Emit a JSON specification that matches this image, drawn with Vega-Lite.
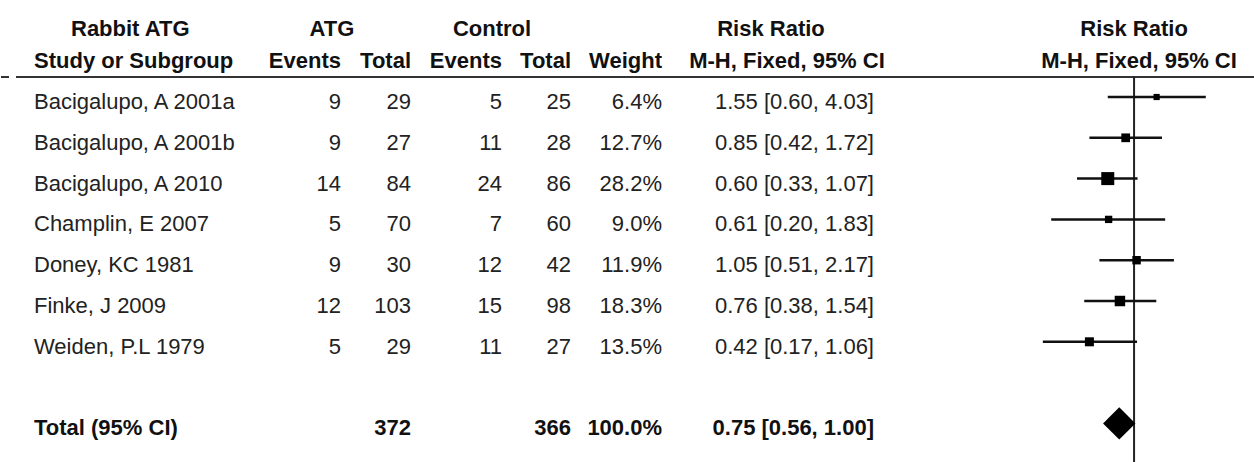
{
  "$schema": "https://vega.github.io/schema/vega-lite/v6.json",
  "padding": 0,
  "spacing": 0,
  "bounds": "flush",
  "background": "white",
  "config": {
    "view": {"stroke": null},
    "text": {"font": "Liberation Sans, Arial, sans-serif", "fontSize": 22, "baseline": "alphabetic", "dy": 12, "color": "#222"}
  },
  "data": {
    "values": [
      {"row": 0, "study": "Bacigalupo, A 2001a", "atg_ev": "9", "atg_tot": "29", "ctl_ev": "5", "ctl_tot": "25", "weight": "6.4%", "ci": "1.55 [0.60, 4.03]", "rr": 1.55, "lo": 0.60, "hi": 4.03, "w": 0.064},
      {"row": 1, "study": "Bacigalupo, A 2001b", "atg_ev": "9", "atg_tot": "27", "ctl_ev": "11", "ctl_tot": "28", "weight": "12.7%", "ci": "0.85 [0.42, 1.72]", "rr": 0.85, "lo": 0.42, "hi": 1.72, "w": 0.127},
      {"row": 2, "study": "Bacigalupo, A 2010", "atg_ev": "14", "atg_tot": "84", "ctl_ev": "24", "ctl_tot": "86", "weight": "28.2%", "ci": "0.60 [0.33, 1.07]", "rr": 0.60, "lo": 0.33, "hi": 1.07, "w": 0.282},
      {"row": 3, "study": "Champlin, E 2007", "atg_ev": "5", "atg_tot": "70", "ctl_ev": "7", "ctl_tot": "60", "weight": "9.0%", "ci": "0.61 [0.20, 1.83]", "rr": 0.61, "lo": 0.20, "hi": 1.83, "w": 0.090},
      {"row": 4, "study": "Doney, KC 1981", "atg_ev": "9", "atg_tot": "30", "ctl_ev": "12", "ctl_tot": "42", "weight": "11.9%", "ci": "1.05 [0.51, 2.17]", "rr": 1.05, "lo": 0.51, "hi": 2.17, "w": 0.119},
      {"row": 5, "study": "Finke, J 2009", "atg_ev": "12", "atg_tot": "103", "ctl_ev": "15", "ctl_tot": "98", "weight": "18.3%", "ci": "0.76 [0.38, 1.54]", "rr": 0.76, "lo": 0.38, "hi": 1.54, "w": 0.183},
      {"row": 6, "study": "Weiden, P.L 1979", "atg_ev": "5", "atg_tot": "29", "ctl_ev": "11", "ctl_tot": "27", "weight": "13.5%", "ci": "0.42 [0.17, 1.06]", "rr": 0.42, "lo": 0.17, "hi": 1.06, "w": 0.135},
      {"row": 8, "study": "Total (95% CI)", "atg_ev": "", "atg_tot": "372", "ctl_ev": "", "ctl_tot": "366", "weight": "100.0%", "ci": "0.75 [0.56, 1.00]", "rr": 0.75, "lo": 0.56, "hi": 1.00, "w": 1.0}
    ]
  },
  "hconcat": [
    {
      "width": 8, "height": 462,
      "layer": [
        {"data": {"values": [{}]}, "mark": {"type": "rule", "color": "#333", "strokeWidth": 2}, "encoding": {"y": {"datum": -0.49, "type": "quantitative", "scale": {"domain": [-2.3775, 8.946], "reverse": true, "nice": false, "zero": false}, "axis": null}}}
      ]
    },
    {
      "width": 7, "height": 462,
      "layer": [
        {"data": {"values": [{}]}, "mark": {"type": "rule", "color": "#333", "strokeWidth": 2, "opacity": 0}, "encoding": {"y": {"datum": -0.49, "type": "quantitative", "scale": {"domain": [-2.3775, 8.946], "reverse": true, "nice": false, "zero": false}, "axis": null}}}
      ]
    },
    {
      "width": 18, "height": 462,
      "layer": [
        {"data": {"values": [{}]}, "mark": {"type": "rule", "color": "#333", "strokeWidth": 2}, "encoding": {"y": {"datum": -0.49, "type": "quantitative", "scale": {"domain": [-2.3775, 8.946], "reverse": true, "nice": false, "zero": false}, "axis": null}}}
      ]
    },
    {
      "width": 229, "height": 462,
      "layer": [
        {"data": {"values": [{}]}, "mark": {"type": "rule", "color": "#333", "strokeWidth": 2}, "encoding": {"y": {"datum": -0.49, "type": "quantitative", "scale": {"domain": [-2.3775, 8.946], "reverse": true, "nice": false, "zero": false}, "axis": null}}},
        {"transform": [{"filter": "datum.row < 8"}], "mark": {"type": "text", "align": "left"}, "encoding": {"x": {"value": 0}, "y": {"field": "row", "type": "quantitative", "axis": null}, "text": {"field": "study", "type": "nominal"}}},
        {"transform": [{"filter": "datum.row == 8"}], "mark": {"type": "text", "align": "left", "fontWeight": "bold", "color": "#111"}, "encoding": {"x": {"value": 0}, "y": {"field": "row", "type": "quantitative", "axis": null}, "text": {"field": "study", "type": "nominal"}}},
        {"data": {"values": [{"row": -1, "label": "Study or Subgroup"}]}, "mark": {"type": "text", "align": "left", "fontWeight": "bold", "color": "#111"}, "encoding": {"x": {"value": 0}, "y": {"field": "row", "type": "quantitative", "axis": null}, "text": {"field": "label", "type": "nominal"}}},
        {"data": {"values": [{"row": -1.8, "label": "Rabbit ATG"}]}, "mark": {"type": "text", "align": "left", "dx": 37, "fontWeight": "bold", "color": "#111"}, "encoding": {"x": {"value": 0}, "y": {"field": "row", "type": "quantitative", "axis": null}, "text": {"field": "label", "type": "nominal"}}}
      ]
    },
    {
      "width": 78, "height": 462,
      "layer": [
        {"data": {"values": [{}]}, "mark": {"type": "rule", "color": "#333", "strokeWidth": 2}, "encoding": {"y": {"datum": -0.49, "type": "quantitative", "scale": {"domain": [-2.3775, 8.946], "reverse": true, "nice": false, "zero": false}, "axis": null}}},
        {"transform": [{"filter": "datum.row < 8"}], "mark": {"type": "text", "align": "right"}, "encoding": {"x": {"value": "width"}, "y": {"field": "row", "type": "quantitative", "axis": null}, "text": {"field": "atg_ev", "type": "nominal"}}},
        {"data": {"values": [{"row": -1, "label": "Events"}]}, "mark": {"type": "text", "align": "right", "fontWeight": "bold", "color": "#111"}, "encoding": {"x": {"value": "width"}, "y": {"field": "row", "type": "quantitative", "axis": null}, "text": {"field": "label", "type": "nominal"}}},
        {"data": {"values": [{"row": -1.8, "label": "ATG"}]}, "mark": {"type": "text", "align": "center", "dx": -9, "fontWeight": "bold", "color": "#111"}, "encoding": {"x": {"value": "width"}, "y": {"field": "row", "type": "quantitative", "axis": null}, "text": {"field": "label", "type": "nominal"}}}
      ]
    },
    {
      "width": 70, "height": 462,
      "layer": [
        {"data": {"values": [{}]}, "mark": {"type": "rule", "color": "#333", "strokeWidth": 2}, "encoding": {"y": {"datum": -0.49, "type": "quantitative", "scale": {"domain": [-2.3775, 8.946], "reverse": true, "nice": false, "zero": false}, "axis": null}}},
        {"transform": [{"filter": "datum.row < 8"}], "mark": {"type": "text", "align": "right"}, "encoding": {"x": {"value": "width"}, "y": {"field": "row", "type": "quantitative", "axis": null}, "text": {"field": "atg_tot", "type": "nominal"}}},
        {"transform": [{"filter": "datum.row == 8"}], "mark": {"type": "text", "align": "right", "fontWeight": "bold", "color": "#111"}, "encoding": {"x": {"value": "width"}, "y": {"field": "row", "type": "quantitative", "axis": null}, "text": {"field": "atg_tot", "type": "nominal"}}},
        {"data": {"values": [{"row": -1, "label": "Total"}]}, "mark": {"type": "text", "align": "right", "fontWeight": "bold", "color": "#111"}, "encoding": {"x": {"value": "width"}, "y": {"field": "row", "type": "quantitative", "axis": null}, "text": {"field": "label", "type": "nominal"}}}
      ]
    },
    {
      "width": 91, "height": 462,
      "layer": [
        {"data": {"values": [{}]}, "mark": {"type": "rule", "color": "#333", "strokeWidth": 2}, "encoding": {"y": {"datum": -0.49, "type": "quantitative", "scale": {"domain": [-2.3775, 8.946], "reverse": true, "nice": false, "zero": false}, "axis": null}}},
        {"transform": [{"filter": "datum.row < 8"}], "mark": {"type": "text", "align": "right"}, "encoding": {"x": {"value": "width"}, "y": {"field": "row", "type": "quantitative", "axis": null}, "text": {"field": "ctl_ev", "type": "nominal"}}},
        {"data": {"values": [{"row": -1, "label": "Events"}]}, "mark": {"type": "text", "align": "right", "fontWeight": "bold", "color": "#111"}, "encoding": {"x": {"value": "width"}, "y": {"field": "row", "type": "quantitative", "axis": null}, "text": {"field": "label", "type": "nominal"}}},
        {"data": {"values": [{"row": -1.8, "label": "Control"}]}, "mark": {"type": "text", "align": "center", "dx": -10, "fontWeight": "bold", "color": "#111"}, "encoding": {"x": {"value": "width"}, "y": {"field": "row", "type": "quantitative", "axis": null}, "text": {"field": "label", "type": "nominal"}}}
      ]
    },
    {
      "width": 69, "height": 462,
      "layer": [
        {"data": {"values": [{}]}, "mark": {"type": "rule", "color": "#333", "strokeWidth": 2}, "encoding": {"y": {"datum": -0.49, "type": "quantitative", "scale": {"domain": [-2.3775, 8.946], "reverse": true, "nice": false, "zero": false}, "axis": null}}},
        {"transform": [{"filter": "datum.row < 8"}], "mark": {"type": "text", "align": "right"}, "encoding": {"x": {"value": "width"}, "y": {"field": "row", "type": "quantitative", "axis": null}, "text": {"field": "ctl_tot", "type": "nominal"}}},
        {"transform": [{"filter": "datum.row == 8"}], "mark": {"type": "text", "align": "right", "fontWeight": "bold", "color": "#111"}, "encoding": {"x": {"value": "width"}, "y": {"field": "row", "type": "quantitative", "axis": null}, "text": {"field": "ctl_tot", "type": "nominal"}}},
        {"data": {"values": [{"row": -1, "label": "Total"}]}, "mark": {"type": "text", "align": "right", "fontWeight": "bold", "color": "#111"}, "encoding": {"x": {"value": "width"}, "y": {"field": "row", "type": "quantitative", "axis": null}, "text": {"field": "label", "type": "nominal"}}}
      ]
    },
    {
      "width": 91, "height": 462,
      "layer": [
        {"data": {"values": [{}]}, "mark": {"type": "rule", "color": "#333", "strokeWidth": 2}, "encoding": {"y": {"datum": -0.49, "type": "quantitative", "scale": {"domain": [-2.3775, 8.946], "reverse": true, "nice": false, "zero": false}, "axis": null}}},
        {"transform": [{"filter": "datum.row < 8"}], "mark": {"type": "text", "align": "right"}, "encoding": {"x": {"value": "width"}, "y": {"field": "row", "type": "quantitative", "axis": null}, "text": {"field": "weight", "type": "nominal"}}},
        {"transform": [{"filter": "datum.row == 8"}], "mark": {"type": "text", "align": "right", "fontWeight": "bold", "color": "#111"}, "encoding": {"x": {"value": "width"}, "y": {"field": "row", "type": "quantitative", "axis": null}, "text": {"field": "weight", "type": "nominal"}}},
        {"data": {"values": [{"row": -1, "label": "Weight"}]}, "mark": {"type": "text", "align": "right", "fontWeight": "bold", "color": "#111"}, "encoding": {"x": {"value": "width"}, "y": {"field": "row", "type": "quantitative", "axis": null}, "text": {"field": "label", "type": "nominal"}}}
      ]
    },
    {
      "width": 212, "height": 462,
      "layer": [
        {"data": {"values": [{}]}, "mark": {"type": "rule", "color": "#333", "strokeWidth": 2}, "encoding": {"y": {"datum": -0.49, "type": "quantitative", "scale": {"domain": [-2.3775, 8.946], "reverse": true, "nice": false, "zero": false}, "axis": null}}},
        {"transform": [{"filter": "datum.row < 8"}], "mark": {"type": "text", "align": "right"}, "encoding": {"x": {"value": "width"}, "y": {"field": "row", "type": "quantitative", "axis": null}, "text": {"field": "ci", "type": "nominal"}}},
        {"transform": [{"filter": "datum.row == 8"}], "mark": {"type": "text", "align": "right", "fontWeight": "bold", "color": "#111"}, "encoding": {"x": {"value": "width"}, "y": {"field": "row", "type": "quantitative", "axis": null}, "text": {"field": "ci", "type": "nominal"}}},
        {"data": {"values": [{"row": -1, "label": "M-H, Fixed, 95% CI"}]}, "mark": {"type": "text", "align": "center", "dx": -87, "fontWeight": "bold", "color": "#111"}, "encoding": {"x": {"value": "width"}, "y": {"field": "row", "type": "quantitative", "axis": null}, "text": {"field": "label", "type": "nominal"}}},
        {"data": {"values": [{"row": -1.8, "label": "Risk Ratio"}]}, "mark": {"type": "text", "align": "center", "dx": -103, "fontWeight": "bold", "color": "#111"}, "encoding": {"x": {"value": "width"}, "y": {"field": "row", "type": "quantitative", "axis": null}, "text": {"field": "label", "type": "nominal"}}}
      ]
    },
    {
      "width": 23, "height": 462,
      "layer": [
        {"data": {"values": [{}]}, "mark": {"type": "rule", "color": "#333", "strokeWidth": 2}, "encoding": {"y": {"datum": -0.49, "type": "quantitative", "scale": {"domain": [-2.3775, 8.946], "reverse": true, "nice": false, "zero": false}, "axis": null}}}
      ]
    },
    {
      "width": 358, "height": 462,
      "layer": [
        {"data": {"values": [{}]}, "mark": {"type": "rule", "color": "#333", "strokeWidth": 2}, "encoding": {"y": {"datum": -0.49, "type": "quantitative", "scale": {"domain": [-2.3775, 8.946], "reverse": true, "nice": false, "zero": false}, "axis": null}}},
        {"data": {"values": [{}]}, "mark": {"type": "rule", "color": "#222", "strokeWidth": 2}, "encoding": {"x": {"datum": 1, "type": "quantitative", "scale": {"type": "log", "domain": [0.01, 10.48], "nice": false}, "axis": null}, "y": {"datum": -0.49, "type": "quantitative", "axis": null}, "y2": {"datum": 8.946}}},
        {"transform": [{"filter": "datum.row < 8"}], "mark": {"type": "rule", "color": "#111", "strokeWidth": 2.5}, "encoding": {"x": {"field": "lo", "type": "quantitative", "axis": null}, "x2": {"field": "hi"}, "y": {"field": "row", "type": "quantitative", "axis": null}}},
        {"transform": [{"filter": "datum.row < 8"}], "mark": {"type": "point", "shape": "square", "filled": true, "color": "#000", "opacity": 1}, "encoding": {"x": {"field": "rr", "type": "quantitative", "axis": null}, "y": {"field": "row", "type": "quantitative", "axis": null}, "size": {"field": "w", "type": "quantitative", "scale": {"domain": [0, 0.3], "range": [0, 180]}, "legend": null}}},
        {"transform": [{"filter": "datum.row == 8"}], "mark": {"type": "point", "shape": "diamond", "filled": true, "color": "#000", "opacity": 1, "size": 1050}, "encoding": {"x": {"field": "rr", "type": "quantitative", "axis": null}, "y": {"field": "row", "type": "quantitative", "axis": null}}},
        {"data": {"values": [{"row": -1.8, "label": "Risk Ratio"}]}, "mark": {"type": "text", "align": "center", "fontWeight": "bold", "color": "#111"}, "encoding": {"x": {"datum": 1, "type": "quantitative", "axis": null}, "y": {"field": "row", "type": "quantitative", "axis": null}, "text": {"field": "label", "type": "nominal"}}},
        {"data": {"values": [{"row": -1, "label": "M-H, Fixed, 95% CI"}]}, "mark": {"type": "text", "align": "center", "dx": 5, "fontWeight": "bold", "color": "#111"}, "encoding": {"x": {"datum": 1, "type": "quantitative", "axis": null}, "y": {"field": "row", "type": "quantitative", "axis": null}, "text": {"field": "label", "type": "nominal"}}}
      ]
    }
  ]
}
